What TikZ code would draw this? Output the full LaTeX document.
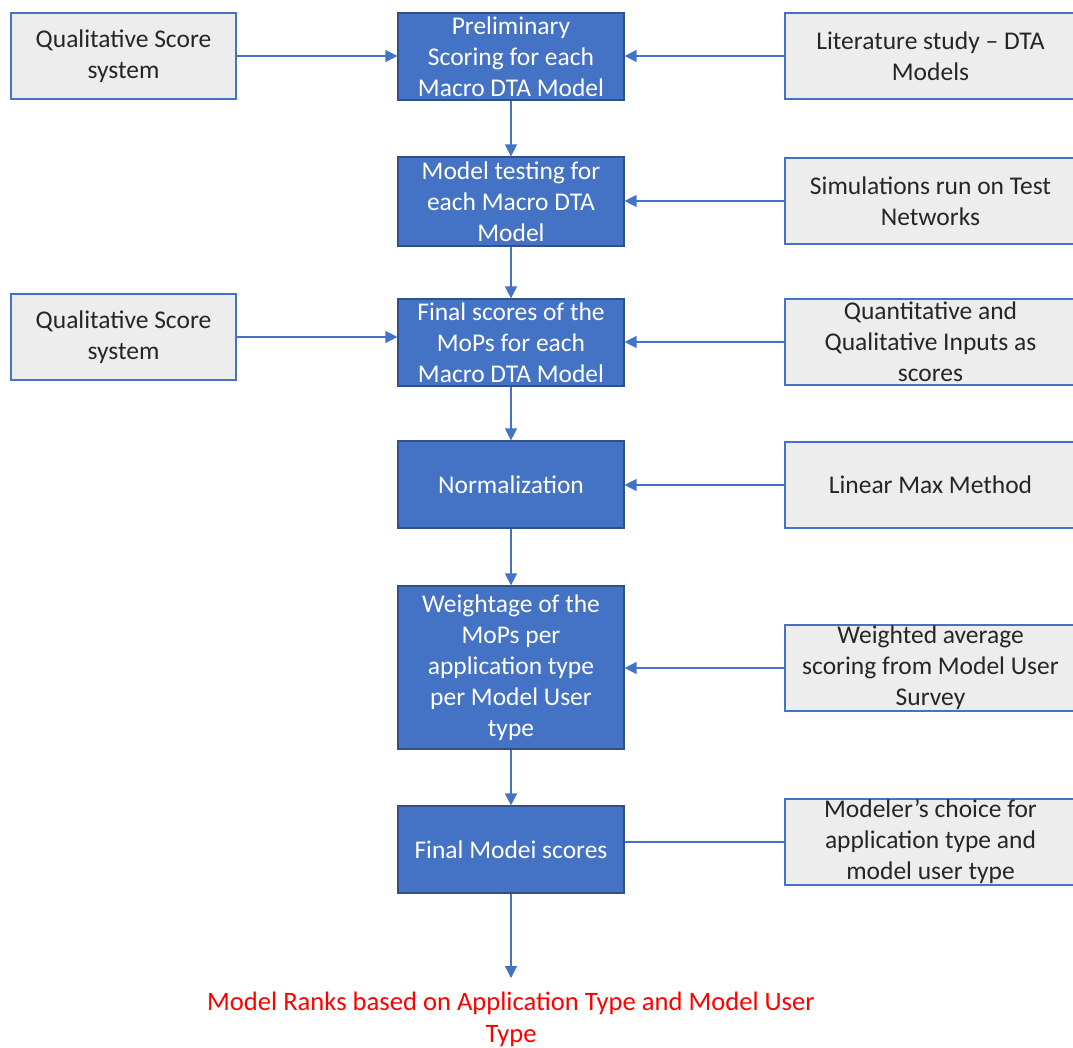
\documentclass[tikz,border=0pt]{standalone}
\usepackage{fontspec}
\setmainfont{Carlito}
\usetikzlibrary{arrows.meta}
\definecolor{mainblue}{HTML}{4472C4}
\definecolor{edgeblue}{HTML}{2F528F}
\definecolor{sidefill}{HTML}{EDEDED}
\definecolor{sidetext}{HTML}{262626}
\begin{document}
\begin{tikzpicture}[x=1pt,y=-1pt,
  font=\fontsize{25.5}{31}\selectfont,
  stepbox/.style={draw=edgeblue, line width=1.2pt, fill=mainblue, text=white,
    minimum width=226pt, inner sep=0pt, align=center},
  sidebox/.style={draw=mainblue, line width=1.2pt, fill=sidefill, text=sidetext,
    minimum height=86pt, inner sep=0pt, align=center},
  flow/.style={draw=mainblue, line width=1.4pt, -{Triangle[length=12pt,width=12pt]}},
  plain/.style={draw=mainblue, line width=1.4pt}
]
\useasboundingbox (0,0) rectangle (1073,1047);

% centre column
\node[stepbox, minimum height=87pt] (c1) at (511,56.5) {Preliminary\\Scoring for each\\Macro DTA Model};
\node[stepbox, minimum height=89pt] (c2) at (511,201.5) {Model testing for\\each Macro DTA\\Model};
\node[stepbox, minimum height=87pt] (c3) at (511,342.5) {Final scores of the\\MoPs for each\\Macro DTA Model};
\node[stepbox, minimum height=87pt] (c4) at (511,484.5) {Normalization};
\node[stepbox, minimum height=163pt] (c5) at (511,667.5) {Weightage of the\\MoPs per\\application type\\per Model User\\type};
\node[stepbox, minimum height=87pt] (c6) at (511,849.5) {Final Modei scores};

% left inputs
\node[sidebox, minimum width=225pt] (l1) at (123.5,56) {Qualitative Score\\system};
\node[sidebox, minimum width=225pt] (l3) at (123.5,337) {Qualitative Score\\system};

% right inputs
\node[sidebox, minimum width=291pt] (r1) at (930.5,56) {Literature study -- DTA\\Models};
\node[sidebox, minimum width=291pt] (r2) at (930.5,201) {Simulations run on Test\\Networks};
\node[sidebox, minimum width=291pt] (r3) at (930.5,342) {Quantitative and\\Qualitative Inputs as\\scores};
\node[sidebox, minimum width=291pt] (r4) at (930.5,485) {Linear Max Method};
\node[sidebox, minimum width=291pt] (r5) at (930.5,668) {Weighted average\\scoring from Model User\\Survey};
\node[sidebox, minimum width=291pt] (r6) at (930.5,842) {Modeler’s choice for\\application type and\\model user type};

% result
\coordinate (endtip) at (511,978);
\node[text=red, align=center, inner sep=0pt, font=\fontsize{26.6}{32}\selectfont] (res) at (511,1019) {Model Ranks based on Application Type and Model User\\Type};

% vertical flow
\draw[flow] (c1) -- (c2);
\draw[flow] (c2) -- (c3);
\draw[flow] (c3) -- (c4);
\draw[flow] (c4) -- (c5);
\draw[flow] (c5) -- (c6);
\draw[flow] (c6) -- (endtip);

% side inputs
\draw[flow] (l1.east) -- (c1.west |- l1.east);
\draw[flow] (r1.west) -- (c1.east |- r1.west);
\draw[flow] (r2.west) -- (c2.east |- r2.west);
\draw[flow] (l3.east) -- (c3.west |- l3.east);
\draw[flow] (r3.west) -- (c3.east |- r3.west);
\draw[flow] (r4.west) -- (c4.east |- r4.west);
\draw[flow] (r5.west) -- (c5.east |- r5.west);
\draw[plain] (r6.west) -- (c6.east |- r6.west);
\end{tikzpicture}
\end{document}
